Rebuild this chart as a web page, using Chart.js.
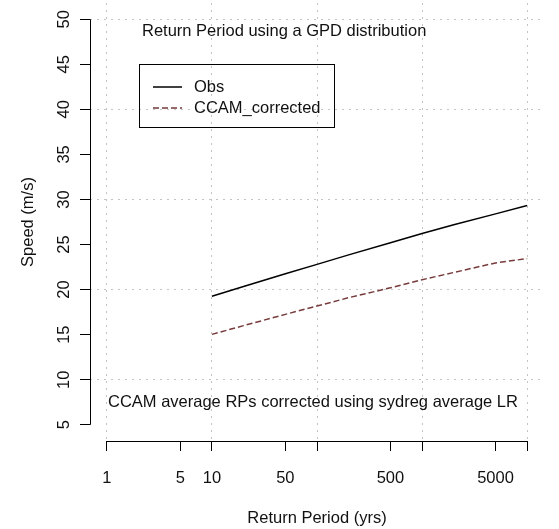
<!DOCTYPE html>
<html>
<head>
<meta charset="utf-8">
<script src="https://cdn.jsdelivr.net/npm/chart.js@4.4.1/dist/chart.umd.min.js"></script>
<style>
  html, body { margin: 0; padding: 0; background: #fff; }
  #wrap { width: 559px; height: 529px; }
</style>
</head>
<body>
<div id="wrap"><canvas id="rp"></canvas></div>
<script>
// return periods (yrs) and fitted GPD return levels (m/s)
const returnPeriods = [10, 20, 50, 100, 200, 500, 1000, 2000, 5000, 10000];
const obsSpeed  = [19.26, 20.35, 21.75, 22.8, 23.85, 25.2, 26.22, 27.2, 28.4, 29.33];
const ccamSpeed = [15.03, 16.0, 17.25, 18.18, 19.1, 20.2, 21.1, 21.9, 22.96, 23.44];

const xTicks = [1, 5, 10, 50, 100, 500, 1000, 5000, 10000];
const xTickLabels = ["1", "5", "10", "50", "", "500", "", "5000", ""];
const xGrid = [1, 10, 100, 1000, 10000];
const yTicks = [5, 10, 15, 20, 25, 30, 35, 40, 45, 50];
const yGrid = [10, 20, 30, 40, 50];

const FONT = "Liberation Sans, Arial, sans-serif";
const FS = 16.5;
const gridCol = "#c4c4c4";

// axis lines, rotated y labels, text annotations and legend box
const rPlotBits = {
  id: "rPlotBits",
  afterDraw(chart) {
    const ctx = chart.ctx;
    const xs = chart.scales.x, ys = chart.scales.y;
    const area = chart.chartArea;
    ctx.save();
    ctx.strokeStyle = "#000";
    ctx.lineWidth = 1;
    // x axis line spans first to last tick
    const yb = Math.round(area.bottom) + 0.5;
    ctx.beginPath();
    ctx.moveTo(xs.getPixelForValue(xTicks[0]), yb);
    ctx.lineTo(xs.getPixelForValue(xTicks[xTicks.length - 1]), yb);
    ctx.stroke();
    // y axis line
    const xl = Math.round(area.left) + 0.5;
    ctx.beginPath();
    ctx.moveTo(xl, ys.getPixelForValue(yTicks[0]));
    ctx.lineTo(xl, ys.getPixelForValue(yTicks[yTicks.length - 1]));
    ctx.stroke();

    // y tick labels, read bottom to top
    ctx.fillStyle = "#111";
    ctx.font = FS + "px " + FONT;
    ctx.textAlign = "center";
    ctx.textBaseline = "middle";
    yTicks.forEach(v => {
      ctx.save();
      ctx.translate(64, ys.getPixelForValue(v));
      ctx.rotate(-Math.PI / 2);
      ctx.fillText(String(v), 0, 0);
      ctx.restore();
    });

    // text annotations
    ctx.textAlign = "left";
    ctx.textBaseline = "alphabetic";
    ctx.fillText("Return Period using a GPD distribution", 142, 36);
    ctx.fillText("CCAM average RPs corrected using sydreg average LR", 108, 407);

    // legend
    ctx.strokeStyle = "#000";
    ctx.lineWidth = 1;
    ctx.strokeRect(139.5, 64.5, 195, 63);
    const rows = [87, 108];
    chart.data.datasets.forEach((ds, i) => {
      ctx.save();
      ctx.strokeStyle = ds.borderColor;
      ctx.lineWidth = ds.borderWidth;
      ctx.setLineDash(ds.borderDash || []);
      ctx.beginPath();
      ctx.moveTo(153, rows[i]);
      ctx.lineTo(182, rows[i]);
      ctx.stroke();
      ctx.restore();
      ctx.textBaseline = "middle";
      ctx.fillText(ds.label, 194, rows[i]);
    });
    ctx.restore();
  }
};

new Chart(document.getElementById("rp"), {
  type: "line",
  data: {
    datasets: [
      {
        label: "Obs",
        data: returnPeriods.map((x, i) => ({ x: x, y: obsSpeed[i] })),
        borderColor: "#000",
        borderWidth: 1.5,
        pointRadius: 0,
        tension: 0
      },
      {
        label: "CCAM_corrected",
        data: returnPeriods.map((x, i) => ({ x: x, y: ccamSpeed[i] })),
        borderColor: "#7a3a3a",
        borderWidth: 1.5,
        borderDash: [6, 3],
        pointRadius: 0,
        tension: 0
      }
    ]
  },
  options: {
    responsive: true,
    maintainAspectRatio: false,
    animation: false,
    layout: { padding: { top: 3, right: 15, left: 0, bottom: 0 } },
    plugins: { legend: { display: false }, tooltip: { enabled: false } },
    scales: {
      x: {
        type: "logarithmic",
        min: Math.pow(10, -0.16),
        max: Math.pow(10, 4.16),
        afterBuildTicks: s => { s.ticks = xTicks.map(v => ({ value: v })); },
        afterFit: s => { s.height = 88; },
        ticks: {
          autoSkip: false,
          maxRotation: 0,
          padding: 18,
          color: "#111",
          font: { family: FONT, size: FS },
          callback: (v, i) => xTickLabels[i]
        },
        grid: {
          color: c => (c.tick && xGrid.includes(c.tick.value)) ? gridCol : "rgba(0,0,0,0)",
          lineWidth: 1,
          drawTicks: true,
          tickLength: 10,
          tickColor: "#000",
          tickWidth: 1,
          tickBorderDash: []
        },
        border: { display: false, dash: [2, 5] },
        title: {
          display: true,
          text: "Return Period (yrs)",
          color: "#111",
          font: { family: FONT, size: FS },
          padding: { top: 0, bottom: 1 }
        }
      },
      y: {
        min: 3.2,
        max: 51.8,
        afterBuildTicks: s => { s.ticks = yTicks.map(v => ({ value: v })); },
        afterFit: s => { s.width = 90; },
        ticks: { display: false },
        grid: {
          color: c => (c.tick && yGrid.includes(c.tick.value)) ? gridCol : "rgba(0,0,0,0)",
          lineWidth: 1,
          drawTicks: true,
          tickLength: 10,
          tickColor: "#000",
          tickWidth: 1,
          tickBorderDash: []
        },
        border: { display: false, dash: [2, 5] },
        title: {
          display: true,
          text: "Speed (m/s)",
          color: "#111",
          font: { family: FONT, size: FS },
          padding: { top: 19, bottom: 0 }
        }
      }
    }
  },
  plugins: [rPlotBits]
});
</script>
</body>
</html>
